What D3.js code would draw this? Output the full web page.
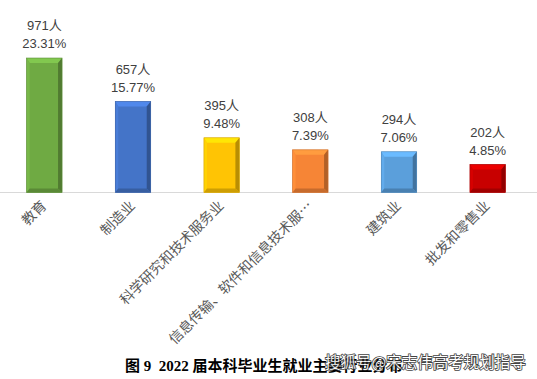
<!DOCTYPE html>
<html><head><meta charset="utf-8">
<script src="https://cdn.jsdelivr.net/npm/d3@7/dist/d3.min.js"></script>
<style>html,body{margin:0;padding:0;background:#fff;}svg{display:block;}</style>
</head><body>
<script>
const categories = ["教育","制造业","科学研究和技术服务业","信息传输、软件和信息技术服…","建筑业","批发和零售业"];
const counts = [971, 657, 395, 308, 294, 202];
const percents = ["23.31%","15.77%","9.48%","7.39%","7.06%","4.85%"];
const colors = ["#6FAA43","#4474C8","#FFC404","#F68536","#5B9FDB","#C80000"];
const title = "图 9  2022 届本科毕业生就业主要行业分布";
const watermark = "搜狐号@宋志伟高考规划指导";

const W = 537, H = 379;
const svg = d3.select("body").append("svg").attr("width", W).attr("height", H);

const x = d3.scaleBand().domain(categories).range([0, 532]).paddingInner(0.6).paddingOuter(0.3);
const y = d3.scaleLinear().domain([0, 1000]).range([192.5, 54]);

// axis line
svg.append("line").attr("x1", 0).attr("x2", W).attr("y1", y(0)).attr("y2", y(0))
  .attr("stroke", "#d9d9d9").attr("stroke-width", 1.2);

const bw = x.bandwidth();
const g = svg.selectAll("g.bar").data(categories).join("g").attr("class", "bar");
g.each(function(c, i) {
  const s = d3.select(this);
  const x0 = x(c), x1 = x0 + bw, y0 = y(counts[i]), y1 = y(0);
  const col = d3.color(colors[i]);
  const bT = 5, bL = 3, bR = 4, bB = 4;
  s.append("rect").attr("x", x0).attr("y", y0).attr("width", bw).attr("height", y1 - y0).attr("fill", col);
  const poly = (pts, fill) => s.append("polygon").attr("points", pts.map(p => p.join(",")).join(" ")).attr("fill", fill);
  poly([[x0,y0],[x1,y0],[x1-bR,y0+bT],[x0+bL,y0+bT]], col.brighter(0.45));
  poly([[x0,y0],[x0+bL,y0+bT],[x0+bL,y1-bB],[x0,y1]], col.brighter(0.2));
  poly([[x1,y0],[x1,y1],[x1-bR,y1-bB],[x1-bR,y0+bT]], col.darker(0.9));
  poly([[x0,y1],[x0+bL,y1-bB],[x1-bR,y1-bB],[x1,y1]], col.darker(0.6));
  s.append("rect").attr("x", x0).attr("y", y0).attr("width", bw).attr("height", y1 - y0)
    .attr("fill", "none").attr("stroke", col.darker(0.5)).attr("stroke-width", 0.6);
  const cx = x0 + bw / 2;
  s.append("text").attr("x", cx).attr("y", y0 - 10).attr("text-anchor", "middle")
    .attr("font-family", "'Liberation Sans','Noto Sans CJK SC',sans-serif").attr("font-size", 13)
    .attr("fill", "#404040").text(percents[i]);
  s.append("text").attr("x", cx).attr("y", y0 - 28).attr("text-anchor", "middle")
    .attr("font-family", "'Liberation Sans','Noto Sans CJK SC',sans-serif").attr("font-size", 13)
    .attr("fill", "#404040").text(counts[i] + "人");
  s.append("text").attr("transform", `translate(${cx + 3},${y1 + 14}) rotate(-45)`)
    .attr("text-anchor", "end")
    .attr("font-family", "'Noto Sans CJK SC',sans-serif").attr("font-size", 14)
    .attr("fill", "#595959").text(categories[i]);
});

svg.append("text").attr("x", 125).attr("y", 371)
  .attr("xml:space", "preserve").style("white-space", "pre")
  .attr("font-family", "'Liberation Serif','Noto Sans CJK SC',serif").attr("font-weight", "bold")
  .attr("font-size", 15).attr("fill", "#000").text(title);

svg.append("text").attr("x", 325).attr("y", 368)
  .attr("font-family", "'Noto Sans CJK SC',sans-serif").attr("font-size", 15.5)
  .attr("fill", "#fff").attr("stroke", "#222").attr("stroke-width", 1.6)
  .attr("paint-order", "stroke").attr("opacity", 0.85).text(watermark);
</script>
</body></html>
